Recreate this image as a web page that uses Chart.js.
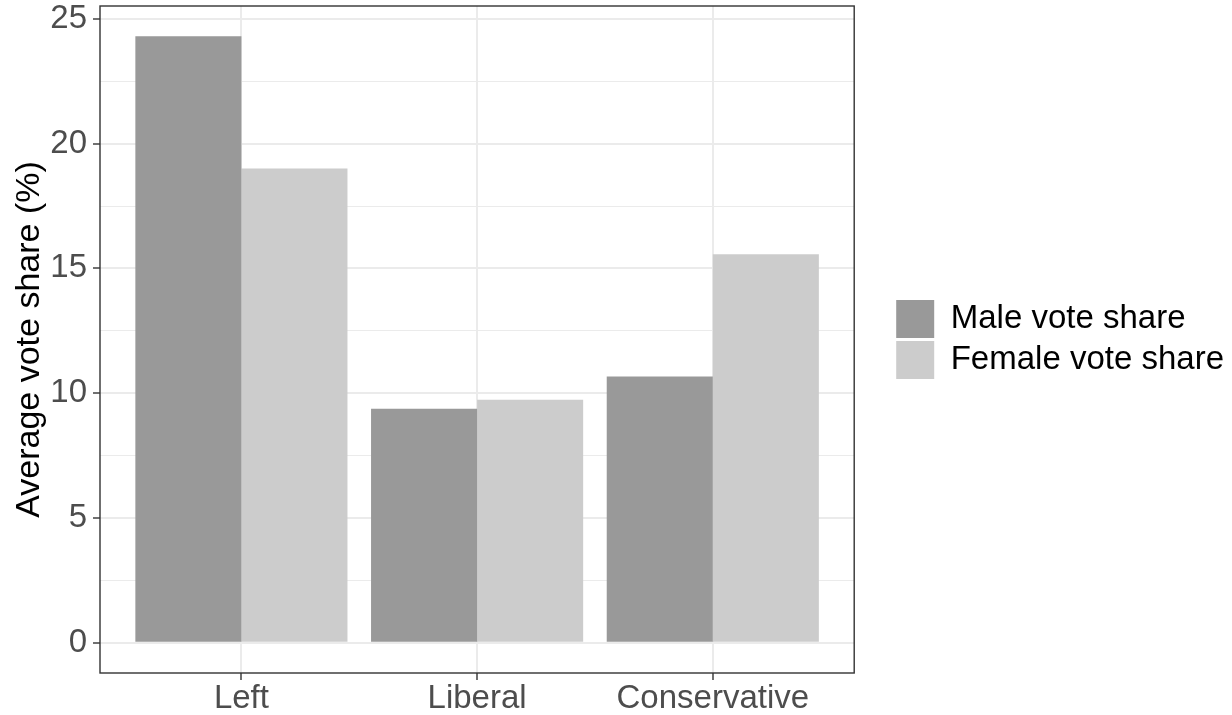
<!DOCTYPE html>
<html>
<head>
<meta charset="utf-8">
<title>Average vote share</title>
<script src="https://cdn.jsdelivr.net/npm/chart.js@4.4.1/dist/chart.umd.min.js"></script>
<style>
  html, body { margin: 0; padding: 0; background: #fff; }
  #wrap { width: 1232px; height: 715px; position: relative; }
</style>
</head>
<body>
<div id="wrap"><canvas id="chart"></canvas></div>
<script>
// --- DATA ---
const categories = ['Left', 'Liberal', 'Conservative'];
const maleShare = [24.3, 9.37, 10.67];
const femaleShare = [19.0, 9.74, 15.57];
const seriesNames = ['Male vote share', 'Female vote share'];
const yTickValues = [0, 5, 10, 15, 20, 25];

// --- STYLE ---
const FONT = '"Liberation Sans", Arial, sans-serif';
const maleColor = '#999999';
const femaleColor = '#CCCCCC';
const gridColor = '#EBEBEB';
const axisDark = '#333333';

// minor breaks halfway between the major ones (ggplot style)
const yMinor = yTickValues.slice(1).map((v, i) => (v + yTickValues[i]) / 2);
const yAllTicks = [...yTickValues, ...yMinor].sort((a, b) => a - b);
const isMajor = v => yTickValues.includes(v);

// ggplot default expansion: 5% of the range on a continuous axis, 0.6 units on a discrete one
const dataMax = Math.max(...maleShare, ...femaleShare);
const yLo = -dataMax * 0.05;
const yHi = dataMax * 1.05;

const toPoints = arr => arr.map((v, i) => ({ x: i, y: v }));

// draws the dark panel border on top of the bars
const panelBorder = {
  id: 'panelBorder',
  afterDatasetsDraw(chart) {
    const { ctx, chartArea: a } = chart;
    ctx.save();
    ctx.strokeStyle = axisDark;
    ctx.lineWidth = 1.4;
    ctx.strokeRect(a.left, a.top, a.right - a.left, a.bottom - a.top);
    ctx.restore();
  }
};

// push the legend away from the panel
const legendNudge = {
  id: 'legendNudge',
  afterLayout(chart) {
    const l = chart.legend;
    if (!l) return;
    l.left += 39;
    l.right += 39;
  }
};

new Chart(document.getElementById('chart'), {
  type: 'bar',
  data: {
    datasets: [
      { label: seriesNames[0], data: toPoints(maleShare), backgroundColor: maleColor, borderWidth: 0 },
      { label: seriesNames[1], data: toPoints(femaleShare), backgroundColor: femaleColor, borderWidth: 0 }
    ]
  },
  options: {
    responsive: true,
    maintainAspectRatio: false,
    animation: false,
    categoryPercentage: 0.9,
    barPercentage: 1.0,
    layout: { padding: { top: 6, right: 37, bottom: 0, left: 0 } },
    plugins: {
      tooltip: { enabled: false },
      legend: {
        position: 'right',
        fullSize: false,
        maxWidth: 420,
        labels: {
          boxWidth: 38,
          boxHeight: 38,
          padding: 3,
          color: '#000000',
          font: { family: FONT, size: 33 }
        }
      }
    },
    scales: {
      x: {
        type: 'linear',
        offset: false,
        min: -0.6,
        max: categories.length - 1 + 0.6,
        afterBuildTicks: scale => { scale.ticks = categories.map((c, i) => ({ value: i })); },
        afterFit: scale => {
          scale.height = 42;
          scale.paddingLeft = 0;
          scale.paddingRight = 0;
        },
        border: { display: false },
        grid: {
          offset: false,
          color: gridColor,
          lineWidth: 2,
          drawTicks: true,
          tickLength: 7,
          tickColor: axisDark,
          tickWidth: 1.4
        },
        ticks: {
          autoSkip: false,
          maxRotation: 0,
          padding: -1,
          color: '#4D4D4D',
          font: { family: FONT, size: 33 },
          callback: v => categories[v] ?? ''
        }
      },
      y: {
        min: yLo,
        max: yHi,
        afterBuildTicks: scale => { scale.ticks = yAllTicks.map(v => ({ value: v })); },
        afterFit: scale => {
          scale.width = 100;
          scale.paddingTop = 0;
          scale.paddingBottom = 0;
        },
        border: { display: false },
        grid: {
          color: gridColor,
          lineWidth: c => (isMajor(c.tick.value) ? 2 : 1),
          drawTicks: true,
          tickLength: 7,
          tickColor: c => (isMajor(c.tick.value) ? axisDark : 'rgba(0,0,0,0)'),
          tickWidth: 1.4
        },
        ticks: {
          autoSkip: false,
          padding: 6,
          color: '#4D4D4D',
          font: { family: FONT, size: 33 },
          callback: v => (isMajor(v) ? String(v) : '')
        },
        title: {
          display: true,
          text: 'Average vote share (%)',
          color: '#000000',
          font: { family: FONT, size: 34 },
          padding: { top: 9, bottom: 0 }
        }
      }
    }
  },
  plugins: [panelBorder, legendNudge]
});
</script>
</body>
</html>
